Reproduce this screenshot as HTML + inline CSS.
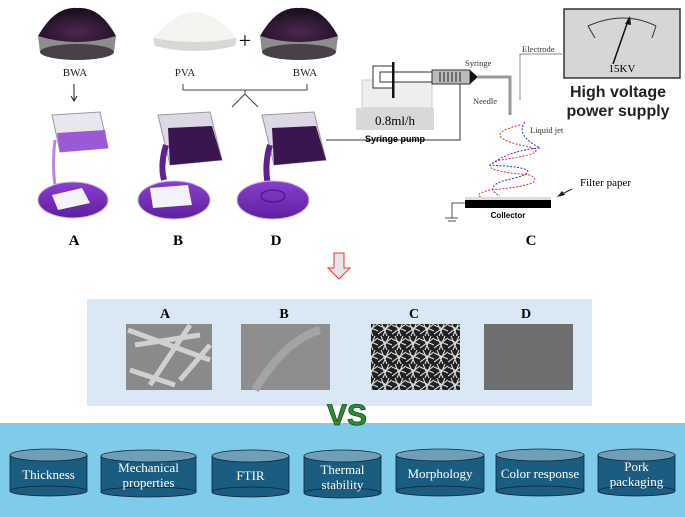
<!DOCTYPE html>
<html><head><meta charset="utf-8"><style>
body{margin:0;width:685px;height:517px;overflow:hidden;background:#fff;font-family:"Liberation Serif",serif}
svg{display:block}
</style></head><body>
<svg width="685" height="517" viewBox="0 0 685 517" xmlns="http://www.w3.org/2000/svg">
<defs>
<radialGradient id="pw" cx="50%" cy="70%" r="60%"><stop offset="0" stop-color="#4a2a4e"/><stop offset="1" stop-color="#1e0f22"/></radialGradient>
<linearGradient id="liq" x1="0" y1="0" x2="0" y2="1"><stop offset="0" stop-color="#8a3fd0"/><stop offset="1" stop-color="#5e1f9e"/></linearGradient>
<pattern id="fib" width="14" height="14" patternUnits="userSpaceOnUse"><rect width="14" height="14" fill="#222"/><path d="M0 3L14 9M3 0L9 14M0 12L14 2M11 0L5 14" stroke="#ddd" stroke-width="1.1"/></pattern>
</defs>
<!-- powders -->
<g>
<path d="M38 36 L40 52 Q77 66 114 52 L116 36 Z" fill="#8d8d8d"/><ellipse cx="77" cy="52" rx="37" ry="8" fill="#4a4048"/><path d="M38 36 Q55 6 77 8 Q100 6 116 36 Q77 48 38 36 Z" fill="url(#pw)"/>
<path d="M153 38 L155 46 Q195 56 235 46 L237 38 Z" fill="#d8d8d8"/><path d="M153 38 Q175 12 195 12 Q215 12 237 38 Q195 46 153 38 Z" fill="#f3f3ef"/>
<text x="245" y="48" font-size="22" text-anchor="middle">+</text>
<path d="M260 36 L262 52 Q299 66 336 52 L338 36 Z" fill="#8d8d8d"/><ellipse cx="299" cy="52" rx="37" ry="8" fill="#4a4048"/><path d="M260 36 Q277 6 299 8 Q322 6 338 36 Q299 48 260 36 Z" fill="url(#pw)"/>
</g>
<g font-size="11" fill="#222" text-anchor="middle"><text x="75" y="76">BWA</text><text x="185" y="76">PVA</text><text x="305" y="76">BWA</text></g>
<path d="M74 84V100M71 96L74 101L77 96" stroke="#222" fill="none"/>
<path d="M183 84V90H307V84M245 90V94M245 94L232 107M245 94L258 107" stroke="#444" fill="none"/>
<!-- beakers & dishes -->
<g>
<path d="M52 115 L100 112 L108 148 L60 152 Z" fill="#e8e6ee" stroke="#999"/><path d="M57 133 L105 130 L108 148 L60 152 Z" fill="#9a5ad8"/><path d="M55 140 Q52 165 55 185" stroke="#b48ae0" stroke-width="3" fill="none"/>
<ellipse cx="73" cy="200" rx="35" ry="18" fill="url(#liq)" stroke="#cbb6e0"/><path d="M52 195 L82 188 L90 203 L58 210 Z" fill="#f4f4f8"/>
<path d="M158 115 L210 112 L222 160 L170 165 Z" fill="#dcd8e4" stroke="#999"/><path d="M168 128 L212 126 L222 160 L170 165 Z" fill="#3a1650"/><path d="M166 145 Q160 165 164 180" stroke="#5e2290" stroke-width="6" fill="none"/>
<ellipse cx="174" cy="200" rx="36" ry="19" fill="url(#liq)" stroke="#cbb6e0"/><path d="M150 188 L188 185 L192 205 L153 208 Z" fill="#f4f4f8"/>
<path d="M262 115 L314 112 L326 160 L274 165 Z" fill="#dcd8e4" stroke="#999"/><path d="M272 128 L316 126 L326 160 L274 165 Z" fill="#3a1650"/><path d="M270 145 Q264 165 268 185" stroke="#5e2290" stroke-width="6" fill="none"/>
<ellipse cx="273" cy="200" rx="36" ry="19" fill="url(#liq)" stroke="#cbb6e0"/><ellipse cx="273" cy="196" rx="12" ry="6" fill="none" stroke="#3e137a"/>
</g>
<g font-size="15" font-weight="bold" text-anchor="middle"><text x="74" y="245">A</text><text x="178" y="245">B</text><text x="276" y="245">D</text><text x="531" y="245">C</text></g>
<!-- electrospinning -->
<path d="M326 140H460V80" stroke="#333" fill="none"/><path d="M457 84L460 78L463 84" fill="#333"/>
<rect x="362" y="80" width="70" height="28" fill="#eee" stroke="#ccc"/>
<rect x="356" y="108" width="78" height="22" fill="#d8d8d8"/>
<text x="395" y="125" font-size="13" text-anchor="middle">0.8ml/h</text>
<text x="395" y="142" font-size="9" font-weight="bold" font-family="Liberation Sans,sans-serif" text-anchor="middle">Syringe pump</text>
<rect x="373" y="66" width="20" height="22" fill="#fff" stroke="#333"/><rect x="380" y="72" width="52" height="10" fill="#fff" stroke="#333"/><rect x="392" y="62" width="2.5" height="36" fill="#111"/>
<rect x="432" y="70" width="38" height="14" fill="#bbb" stroke="#333"/><path d="M440 72V82M444 72V82M448 72V82M452 72V82M456 72V82M460 72V82" stroke="#222"/>
<path d="M470 70L478 77L470 84Z" fill="#111"/><path d="M478 77H510V115" stroke="#999" stroke-width="3" fill="none"/>
<path d="M520 100V54H562" stroke="#888" fill="none"/>
<g font-size="8.5" fill="#333"><text x="522" y="52">Electrode</text><text x="465" y="66">Syringe</text><text x="473" y="104">Needle</text><text x="530" y="133">Liquid jet</text></g>
<rect x="564" y="9" width="116" height="69" fill="#d6d6d6" stroke="#333" stroke-width="1.5"/>
<path d="M588 26Q624 10 656 26" stroke="#333" fill="none"/><path d="M588 26L595 38M656 26L652 38" stroke="#333"/>
<path d="M613 64L629 18" stroke="#111" stroke-width="1.5"/><path d="M625 24L630 16L631 25Z" fill="#111"/>
<text x="622" y="72" font-size="11" text-anchor="middle">15KV</text>
<g font-family="Liberation Sans,sans-serif" font-size="16" font-weight="bold" text-anchor="middle" fill="#222"><text x="618" y="97">High voltage</text><text x="618" y="116">power supply</text></g>
<path d="M520 125Q480 135 520 145Q560 152 500 160Q470 170 530 175Q550 185 490 190Q470 195 485 198" stroke="#c33" stroke-dasharray="2,1.5" fill="none"/>
<path d="M525 122Q515 135 540 148Q510 150 490 165Q550 168 515 178Q480 185 500 196" stroke="#33c" stroke-dasharray="2,1.5" fill="none"/>
<rect x="465" y="197" width="86" height="3" fill="#ddd"/><rect x="465" y="200" width="86" height="8" fill="#000"/>
<text x="508" y="218" font-size="8" font-weight="bold" font-family="Liberation Sans,sans-serif" text-anchor="middle">Collector</text>
<path d="M465 203H452V218M445 218H458M448 221H456" stroke="#555" fill="none"/>
<path d="M572 189L560 195" stroke="#222"/><path d="M562 191L557 197L565 195Z" fill="#222"/>
<text x="580" y="186" font-size="11">Filter paper</text>
<!-- arrow -->
<path d="M334 253H344V268H350L339 279L328 268H334Z" fill="#e6e6e6" stroke="#e33"/>
<!-- SEM panel -->
<rect x="87" y="299" width="505" height="107" fill="#dae8f5"/>
<g font-size="14" font-weight="bold" text-anchor="middle"><text x="165" y="318">A</text><text x="284" y="318">B</text><text x="414" y="318">C</text><text x="526" y="318">D</text></g>
<rect x="126" y="324" width="86" height="66" fill="#8a8a8a"/>
<path d="M128 330L210 360M135 345L200 335M150 385L190 325M130 370L175 385M180 380L210 345" stroke="#d0d0d0" stroke-width="5"/>
<rect x="241" y="324" width="89" height="66" fill="#8e8e8e"/><path d="M255 390Q285 340 320 330" stroke="#a4a4a4" stroke-width="8" fill="none"/>
<rect x="371" y="324" width="89" height="66" fill="url(#fib)"/>
<rect x="484" y="324" width="89" height="66" fill="#6e6e6e"/>
<!-- bottom band -->
<rect x="0" y="423" width="685" height="94" fill="#7ecbea"/>
<text x="347" y="425" font-family="Liberation Sans,sans-serif" font-size="30" font-weight="bold" fill="#2f8a3a" stroke="#174d1e" stroke-width="0.8" text-anchor="middle">VS</text>
<g stroke="#123" stroke-width="0.8" font-size="13" fill="#fff" text-anchor="middle">
<g><rect x="10" y="455" width="77" height="36" fill="#1a5d80"/><ellipse cx="48.5" cy="491" rx="38.5" ry="5" fill="#1a5d80"/><ellipse cx="48.5" cy="455" rx="38.5" ry="6" fill="#6f9fb8"/><text x="48.5" y="479" stroke="none">Thickness</text></g>
<g><rect x="101" y="456" width="95" height="36" fill="#1a5d80"/><ellipse cx="148.5" cy="492" rx="47.5" ry="5" fill="#1a5d80"/><ellipse cx="148.5" cy="456" rx="47.5" ry="6" fill="#6f9fb8"/><text x="148.5" y="472" stroke="none">Mechanical</text><text x="148.5" y="487" stroke="none">properties</text></g>
<g><rect x="212" y="456" width="77" height="36" fill="#1a5d80"/><ellipse cx="250.5" cy="492" rx="38.5" ry="5" fill="#1a5d80"/><ellipse cx="250.5" cy="456" rx="38.5" ry="6" fill="#6f9fb8"/><text x="250.5" y="480" stroke="none">FTIR</text></g>
<g><rect x="304" y="456" width="77" height="37" fill="#1a5d80"/><ellipse cx="342.5" cy="493" rx="38.5" ry="5" fill="#1a5d80"/><ellipse cx="342.5" cy="456" rx="38.5" ry="6" fill="#6f9fb8"/><text x="342.5" y="474" stroke="none">Thermal</text><text x="342.5" y="489" stroke="none">stability</text></g>
<g><rect x="396" y="455" width="88" height="36" fill="#1a5d80"/><ellipse cx="440" cy="491" rx="44" ry="5" fill="#1a5d80"/><ellipse cx="440" cy="455" rx="44" ry="6" fill="#6f9fb8"/><text x="440" y="478" stroke="none">Morphology</text></g>
<g><rect x="496" y="455" width="88" height="36" fill="#1a5d80"/><ellipse cx="540" cy="491" rx="44" ry="5" fill="#1a5d80"/><ellipse cx="540" cy="455" rx="44" ry="6" fill="#6f9fb8"/><text x="540" y="478" stroke="none">Color response</text></g>
<g><rect x="598" y="455" width="77" height="36" fill="#1a5d80"/><ellipse cx="636.5" cy="491" rx="38.5" ry="5" fill="#1a5d80"/><ellipse cx="636.5" cy="455" rx="38.5" ry="6" fill="#6f9fb8"/><text x="636.5" y="471" stroke="none">Pork</text><text x="636.5" y="486" stroke="none">packaging</text></g>
</g>
</svg>
</body></html>
